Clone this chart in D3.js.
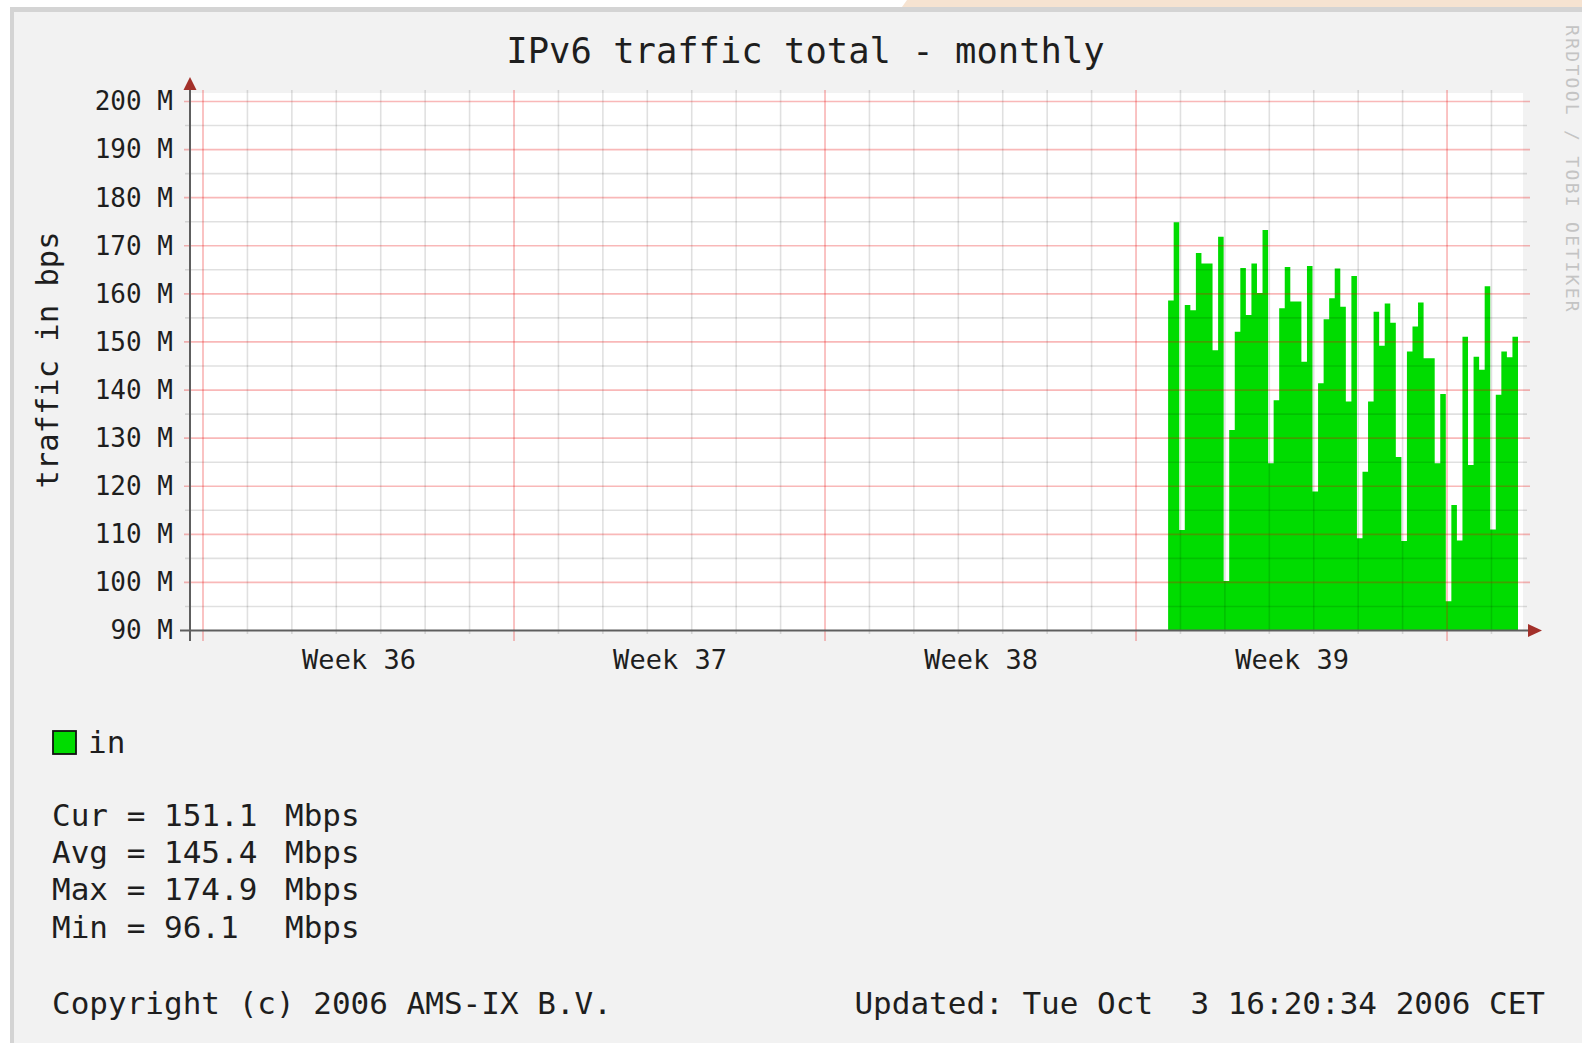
<!DOCTYPE html>
<html>
<head>
<meta charset="utf-8">
<script src="https://cdn.jsdelivr.net/npm/d3@7"></script>
<style>
  html, body { margin: 0; padding: 0; background: #fff; }
  svg { display: block; }
  text { font-family: "DejaVu Sans Mono", monospace; fill: #1e1e1e; white-space: pre; }
</style>
</head>
<body>
<script>
/* chart data */
const title = 'IPv6 traffic total - monthly';
const yLabel = 'traffic in bps';
const seriesName = 'in';
const yTicks = [90, 100, 110, 120, 130, 140, 150, 160, 170, 180, 190, 200];
const weekLabels = ['Week 36', 'Week 37', 'Week 38', 'Week 39'];
const weekStarts = [Date.UTC(2006, 8, 4), Date.UTC(2006, 8, 11), Date.UTC(2006, 8, 18), Date.UTC(2006, 8, 25), Date.UTC(2006, 9, 2)];
const dataStart = Date.UTC(2006, 8, 25, 17, 20);
const stepHours = 3;
// Mbps per 3h step
const inValues = [
  158.6, 174.9, 110.9, 157.7, 156.6, 168.5, 166.3, 166.3, 148.3, 171.9,
  100.3, 131.7, 152.1, 165.4, 155.6, 166.3, 160.2, 173.3, 124.8, 137.9,
  157.0, 165.6, 158.4, 158.4, 145.9, 165.8, 118.9, 141.4, 154.7, 159.1,
  165.3, 157.3, 137.6, 163.7, 109.2, 123.0, 137.6, 156.3, 149.2, 158.0,
  154.0, 126.1, 108.6, 148.0, 153.2, 158.2, 146.6, 146.6, 124.8, 139.2,
  96.1, 116.1, 108.7, 151.1, 124.4, 146.9, 144.2, 161.6, 111.0, 139.0,
  148.0, 146.8, 151.1
];
const statNames = ['Cur', 'Avg', 'Max', 'Min'];
const statValues = [151.1, 145.4, 174.9, 96.1];
const statUnit = 'Mbps';
const copyright = 'Copyright (c) 2006 AMS-IX B.V.';
const updated = 'Updated: Tue Oct  3 16:20:34 2006 CET';
const watermark = 'RRDTOOL / TOBI OETIKER';

const W = 1582, H = 1043;
const plot = { left: 191, right: 1523, top: 93, bottom: 630.5 };
const green = '#00dc00';
const hour = 3600 * 1000, day = 24 * hour;

const svg = d3.select('body').append('svg')
  .attr('width', W)
  .attr('height', H);

/* page frame around the graph image */
svg.append('polygon')
  .attr('points', '907,0 1582,0 1582,7 902,7')
  .attr('fill', '#f6e3d1');
svg.append('rect')
  .attr('x', 10).attr('y', 7).attr('width', W - 10).attr('height', H - 7)
  .attr('fill', '#d4d4d4');
svg.append('rect')
  .attr('x', 14).attr('y', 12).attr('width', W - 14).attr('height', H - 12)
  .attr('fill', '#f2f2f2');

/* scales */
const x = d3.scaleUtc()
  .domain([Date.UTC(2006, 8, 3, 17, 31), Date.UTC(2006, 9, 3, 17, 2)])
  .range([plot.left, plot.right]);
const y = d3.scaleLinear()
  .domain([90, 200])
  .range([plot.bottom, 101.5]);

/* canvas */
svg.append('rect')
  .attr('x', plot.left).attr('y', plot.top)
  .attr('width', plot.right - plot.left).attr('height', plot.bottom - plot.top)
  .attr('fill', '#fff');

/* area (step) */
const points = inValues.map((v, i) => ({ t: dataStart + i * stepHours * hour, v }));
points.push({ t: dataStart + inValues.length * stepHours * hour, v: inValues[inValues.length - 1] });
const area = d3.area()
  .curve(d3.curveStepAfter)
  .x(d => x(d.t))
  .y0(y(90))
  .y1(d => y(d.v));
svg.append('path')
  .datum(points)
  .attr('d', area)
  .attr('fill', green);

/* grid on top, semi transparent like rrdtool */
const grid = svg.append('g').attr('class', 'grid');
const minorY = d3.range(95, 200, 10);
grid.selectAll('line.minor-y')
  .data(minorY)
  .enter().append('line')
  .attr('class', 'minor-y')
  .attr('x1', 185).attr('x2', 1527)
  .attr('y1', d => y(d)).attr('y2', d => y(d))
  .attr('stroke', 'rgba(0,0,0,0.12)').attr('stroke-width', 1.6);

const days = d3.utcDay.range(Date.UTC(2006, 8, 4), Date.UTC(2006, 9, 4));
const minorDays = days.filter(d => d.getUTCDay() !== 1);
const majorDays = days.filter(d => d.getUTCDay() === 1);
grid.selectAll('line.minor-x')
  .data(minorDays)
  .enter().append('line')
  .attr('class', 'minor-x')
  .attr('x1', d => x(d)).attr('x2', d => x(d))
  .attr('y1', 90).attr('y2', 634)
  .attr('stroke', 'rgba(0,0,0,0.12)').attr('stroke-width', 1.6);

grid.selectAll('line.major-y')
  .data(yTicks.filter(d => d > 90))
  .enter().append('line')
  .attr('class', 'major-y')
  .attr('x1', 184).attr('x2', 1530)
  .attr('y1', d => y(d)).attr('y2', d => y(d))
  .attr('stroke', 'rgba(235,0,0,0.28)').attr('stroke-width', 1.7);
grid.selectAll('line.major-x')
  .data(majorDays)
  .enter().append('line')
  .attr('class', 'major-x')
  .attr('x1', d => x(d)).attr('x2', d => x(d))
  .attr('y1', 90).attr('y2', 641)
  .attr('stroke', 'rgba(235,0,0,0.28)').attr('stroke-width', 1.7);

/* axis lines + arrows */
const axisColor = '#5e5e5e', arrowColor = '#a3302a';
svg.append('line')
  .attr('x1', 190).attr('x2', 190).attr('y1', 88).attr('y2', 641)
  .attr('stroke', axisColor).attr('stroke-width', 2);
svg.append('line')
  .attr('x1', 180).attr('x2', 1530).attr('y1', y(90)).attr('y2', y(90))
  .attr('stroke', axisColor).attr('stroke-width', 2);
svg.append('path')
  .attr('d', 'M190,77 L196.5,90 L183.5,90 Z')
  .attr('fill', arrowColor);
svg.append('path')
  .attr('d', `M1542,${y(90)} L1528,${y(90) - 6.5} L1528,${y(90) + 6.5} Z`)
  .attr('fill', arrowColor);

/* y axis labels */
const yAxis = d3.axisLeft(y)
  .tickValues(yTicks)
  .tickFormat(d => d + ' M')
  .tickSize(0)
  .tickPadding(17);
const gy = svg.append('g')
  .attr('transform', 'translate(190,0)')
  .call(yAxis);
gy.select('.domain').remove();
gy.attr('font-family', null).attr('font-size', null);
gy.selectAll('text').attr('font-size', 26).attr('fill', '#1e1e1e');

/* x axis labels, centred in each week */
const weekMids = weekStarts.slice(0, -1).map(t => t + 3.5 * day);
const xAxis = d3.axisBottom(x)
  .tickValues(weekMids)
  .tickFormat((d, i) => weekLabels[i])
  .tickSize(0)
  .tickPadding(19.3);
const gx = svg.append('g')
  .attr('transform', `translate(0,${y(90)})`)
  .call(xAxis);
gx.select('.domain').remove();
gx.attr('font-family', null).attr('font-size', null);
gx.selectAll('text').attr('font-size', 27).attr('fill', '#1e1e1e');

/* title + vertical label */
svg.append('text')
  .attr('x', 805.5).attr('y', 62.5)
  .attr('text-anchor', 'middle')
  .attr('font-size', 35.5)
  .attr('fill', '#151515')
  .text(title);
svg.append('text')
  .attr('transform', 'translate(58,360) rotate(-90)')
  .attr('text-anchor', 'middle')
  .attr('font-size', 30.5)
  .text(yLabel);

/* watermark */
svg.append('text')
  .attr('transform', 'translate(1566,25) rotate(90)')
  .attr('font-size', 18)
  .attr('letter-spacing', 2.3)
  .style('fill', '#c4c4c4')
  .text(watermark);

/* legend */
svg.append('rect')
  .attr('x', 53).attr('y', 731).attr('width', 23).attr('height', 23)
  .attr('fill', green).attr('stroke', '#111').attr('stroke-width', 1.8);
svg.append('text')
  .attr('x', 88).attr('y', 752.7)
  .attr('font-size', 31)
  .text(seriesName);

const stats = svg.append('g').attr('class', 'stats');
stats.selectAll('text.stat')
  .data(statNames)
  .enter().append('text')
  .attr('class', 'stat')
  .attr('x', 52)
  .attr('y', (d, i) => 826 + i * 37.2)
  .attr('font-size', 31)
  .text((d, i) => `${d} = ${statValues[i].toFixed(1)}`);
stats.selectAll('text.unit')
  .data(statNames)
  .enter().append('text')
  .attr('class', 'unit')
  .attr('x', 285)
  .attr('y', (d, i) => 826 + i * 37.2)
  .attr('font-size', 31)
  .text(statUnit);

svg.append('text')
  .attr('x', 52).attr('y', 1013.5)
  .attr('font-size', 31)
  .text(copyright);
svg.append('text')
  .attr('x', 1545).attr('y', 1013.5)
  .attr('text-anchor', 'end')
  .attr('font-size', 31)
  .text(updated);
</script>
</body>
</html>
